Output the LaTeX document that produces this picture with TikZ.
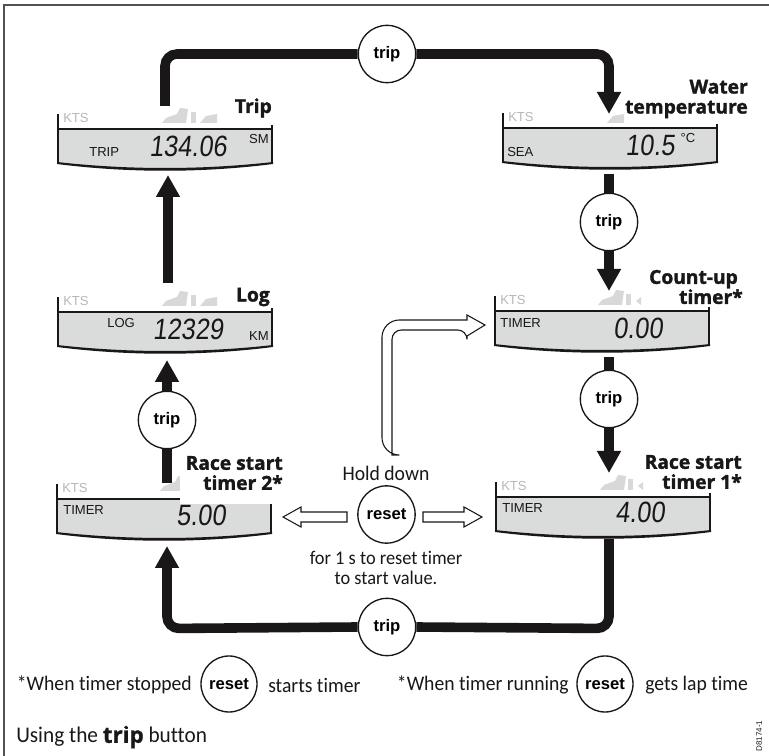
\documentclass[tikz,border=0pt]{standalone}
\usepackage{fontspec}
\setmainfont{Carlito}[Ligatures={NoCommon},FakeStretch=0.95]
\setsansfont{Liberation Sans}
\newfontfamily\boldff{Open Sans}[BoldFeatures={FakeBold=1.6}]
\newcommand{\boldf}{\boldff\bfseries}
\newfontfamily\capbold{Open Sans}[BoldFeatures={FakeBold=1.2}]
\newfontfamily\lcdf{Liberation Sans}[FakeStretch=0.86,FakeSlant=0.12]
\usetikzlibrary{arrows.meta,calc}
\definecolor{lcd}{HTML}{DADCDC}
\definecolor{seg}{HTML}{D8D8D8}
\definecolor{ink}{HTML}{1A1718}
\tikzset{
  x=0.75pt,y=-0.75pt,
  bar/.style={line width=7.2pt,draw=ink,rounded corners=9pt},
  tipbar/.style={bar,-{Triangle[length=16.5pt,width=17pt]}},
  btn/.style={circle,draw=ink,line width=1pt,fill=white,minimum size=43pt,inner sep=0pt,font=\sffamily\bfseries\fontsize{12.5}{14}\selectfont},
  smallbtn/.style={btn,minimum size=42pt},
  hollow/.style={draw=ink,line width=0.8pt,fill=white,line join=miter},
  title/.style={inner sep=0pt,align=right,font=\boldf\fontsize{14.4}{15}\selectfont,text=ink},
  body/.style={inner sep=0pt,font=\fontsize{14.5}{15}\selectfont,text=ink},
  note/.style={inner sep=0pt,font=\fontsize{15.5}{16}\selectfont,text=ink},
  lab/.style={inner sep=0pt,font=\sffamily\fontsize{9.8}{11}\selectfont,text=ink},
  kts/.style={lab,text=seg!85!black},
  digits/.style={inner sep=0pt,font=\lcdf\fontsize{22}{24}\selectfont,text=ink},
}
% #1 name, #2 left x, #3 top y, #4 width
\newcommand{\lcdpanel}[4]{%
  \coordinate (#1) at (#2,#3);
  \fill[lcd] (#1) -- ++(#4,0) -- ++(0,34) .. controls +(-#4/3,8) and +(#4/3,8) .. ($(#1)+(0,34)$) -- cycle;
  \draw[ink,line width=1.5pt] (#1) -- ++(#4,0);
  \draw[ink,line width=1pt] ($(#1)+(0,-15)$) -- ($(#1)+(0,34)$);
  \draw[ink,line width=1pt] ($(#1)+(#4,-4)$) -- ($(#1)+(#4,34)$);
  \fill[ink] ($(#1)+(-1,33)$) .. controls +(#4/3,8) and +(-#4/3,8) .. ($(#1)+(#4+1,33)$) -- ++(0,2)
     .. controls +(-#4/3,9) and +(#4/3,9) .. ($(#1)+(-1,35)$) -- cycle;
  \node[kts,anchor=west] (#1kts) at ($(#1)+(5,-11)$) {KTS};
}
% #1 x of left end, #2 baseline y
\newcommand{\segA}[2]{%
  \fill[seg] (#1,#2) -- ++(4,-5) -- ++(11,-4) -- ++(3,-6) -- ++(8,1) -- ++(-2,14) -- cycle;}
\newcommand{\segB}[2]{\fill[seg] (#1,#2) rectangle ++(5,-11);}
\newcommand{\segC}[2]{\fill[seg] (#1,#2) -- ++(6,-7) -- ++(11,-2) -- ++(0,9) -- cycle;}
\newcommand{\segD}[2]{\fill[seg] (#1,#2-4) -- ++(5,-4) -- ++(0,8) -- cycle;}
\begin{document}
\begin{tikzpicture}
\useasboundingbox (0,0) rectangle (769,756);
\fill[white] (0,0) rectangle (769,756);
% frame
\draw[ink!75,line width=1.5pt] (4,756) -- (4,5) -- (769,5);

% displays
\lcdpanel{trip}{58}{129}{214}
\lcdpanel{sea}{503}{128}{214}
\lcdpanel{log}{58}{312}{214}
\lcdpanel{cup}{495}{311}{214}
\lcdpanel{rs2}{57}{499}{214}
\lcdpanel{rs1}{496}{497}{214}

\segA{162}{123}\segB{191}{123}\segC{200}{123}
\segC{607}{123}
\segA{162}{306}\segB{191}{306}\segC{200}{306}
\segA{598}{305}\segB{626}{305}\segD{636}{305}
\segA{160}{491}
\segA{600}{490}\segB{628}{490}\segD{638}{490}

% buttons
\node[btn] (b1) at (387,54) {trip};
\node[btn] (b2) at (609,222) {trip};
\node[btn] (b3) at (609,399) {trip};
\node[btn] (b4) at (167,420) {trip};
\node[btn] (b5) at (387,627) {trip};
\node[btn] (rst) at (386.5,514.5) {reset};
\node[smallbtn] (rl) at (229,684) {reset};
\node[smallbtn] (rr) at (605,684) {reset};

% thick connectors
\draw[bar] (165,106) -- (165,54) -- (b1.west);
\draw[tipbar] (b1.east) -- (609,54) -- (609,114);
\draw[bar] (609,174) -- (b2.north);
\draw[tipbar] (b2.south) -- (609,291);
\draw[bar] (609,357) -- (b3.north);
\draw[tipbar] (b3.south) -- (609,473);
\draw[bar] (609,539) -- (609,628.5) -- (b5.east);
\draw[tipbar] (b5.west) -- (167,628.5) -- (167,546);
\draw[bar] (167,483) -- (b4.south);
\draw[tipbar] (b4.north) -- (167,360);
\draw[tipbar] (168,283) -- (168,175);

% hollow connectors
\coordinate (hl) at (283,517);
\coordinate (hr) at (482,517);
\coordinate (ht) at (485,325);
\draw[hollow] (hl) -- ++(18,-10) -- ++(0,5) -- ++(46,0) -- ++(0,10) -- ++(-46,0) -- ++(0,5) -- cycle;
\draw[hollow] (hr) -- ++(-18,-10) -- ++(0,5) -- ++(-41,0) -- ++(0,10) -- ++(41,0) -- ++(0,5) -- cycle;
\draw[hollow] (ht) -- (467,315) -- (467,320) [rounded corners=13pt] -- (382,320) -- (382,455) [sharp corners] -- (392,455) [rounded corners=7pt] -- (392,330) -- (467,330) [sharp corners] -- (467,336) -- cycle;

% titles
\node[title,anchor=east] (t1) at (272,108) {Trip};
\node[title,anchor=east] (t2) at (748,99) {Water\\temperature};
\node[title,anchor=east] (t3) at (270,297) {Log};
\node[title,anchor=east] (t4) at (743,287) {Count-up\hspace*{3.7pt}\\timer*};
\fill[white] (180,450) rectangle (290,504);
\node[title,anchor=east] (t5) at (283,473) {Race start\\timer 2*};
\node[title,anchor=east] (t6) at (742,472) {Race start\\timer 1*};

% panel labels
\node[lab,anchor=west] (l1) at (89,152) {TRIP};
\node[lab,anchor=east] (l2) at (269,139) {SM};
\node[digits] (d1) at (188,146) {134.06};
\node[lab,anchor=west] (l3) at (507,152) {SEA};
\node[lab] (l4) at (688,138) {°C};
\node[digits] (d2) at (650,145) {10.5};
\node[lab,anchor=west] (l5) at (107,323) {LOG};
\node[lab,anchor=east] (l6) at (269,336) {KM};
\node[digits] (d3) at (188,329) {12329};
\node[lab,anchor=west] (l7) at (500,323) {TIMER};
\node[digits] (d4) at (638,328) {0.00};
\node[lab,anchor=west] (l8) at (63,510) {TIMER};
\node[digits] (d5) at (201,515) {5.00};
\node[lab,anchor=west] (l9) at (502,508) {TIMER};
\node[digits] (d6) at (640,512) {4.00};

% texts
\node[note] (h1) at (386,473) {Hold down};
\node[body,align=center] (h2) at (386,568) {for 1 s to reset timer\\to start value.};
\node[note,anchor=east] (n1) at (192,685) {*When timer stopped};
\node[note,anchor=west] (n2) at (268,685) {starts timer};
\node[note,anchor=east] (n3) at (569,685) {*When timer running};
\node[note,anchor=west] (n4) at (645,685) {gets lap time};
\node[body,anchor=west,font=\fontsize{16.8}{18}\selectfont] (cap) at (16,737) {Using the {\capbold\bfseries trip} button};
\node[inner sep=0pt,rotate=90,font=\sffamily\fontsize{6}{7}\selectfont,text=ink] (code) at (759,736) {D8174-1};
\end{tikzpicture}
\end{document}
